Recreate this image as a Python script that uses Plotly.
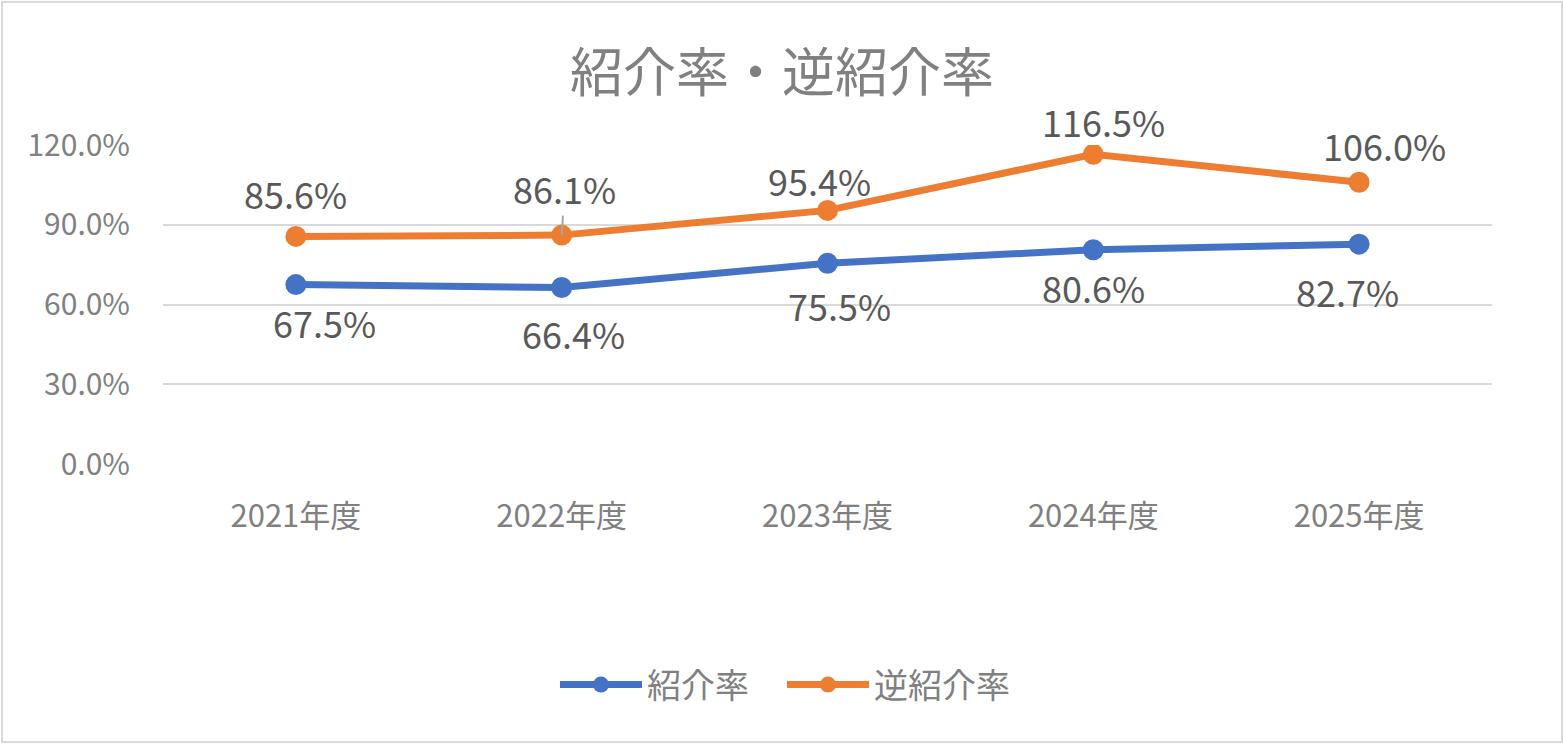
#%% Bibliotecas

import plotly.graph_objects as go

#%% Dados

anos = ["2021年度", "2022年度", "2023年度", "2024年度", "2025年度"]
shokai = [67.5, 66.4, 75.5, 80.6, 82.7]
gyaku_shokai = [85.6, 86.1, 95.4, 116.5, 106.0]
y_ticks = [0, 30, 60, 90, 120]

#%% Estilo

azul = "#4472C4"
laranja = "#ED7D31"
cinza_txt = "#595959"
cinza_eixo = "#808080"
fonte = "Noto Sans CJK JP"

# deslocamento (px) de cada rótulo de dados em relação ao ponto
desl_laranja = [(0, 43), (3, 47), (-8, 30), (10, 33), (25, 37)]
desl_azul = [(29, -37), (12, -46), (12, -42), (0, -37), (-12, -47)]

#%% Gráfico

fig = go.Figure()

fig.add_trace(go.Scatter(
    x=anos, y=shokai, name="紹介率",
    mode="lines+markers",
    line=dict(color=azul, width=7),
    marker=dict(color=azul, size=21),
))

fig.add_trace(go.Scatter(
    x=anos, y=gyaku_shokai, name="逆紹介率",
    mode="lines+markers",
    line=dict(color=laranja, width=7),
    marker=dict(color=laranja, size=21),
))

# rótulos de dados
for serie, desl in [(gyaku_shokai, desl_laranja), (shokai, desl_azul)]:
    for ano, v, (dx, dy) in zip(anos, serie, desl):
        if serie is gyaku_shokai and ano == "2022年度":
            # linha guia curta como no original
            fig.add_annotation(
                x=ano, y=v, text=f"{v:.1f}%",
                showarrow=True, arrowhead=0, arrowwidth=2,
                arrowcolor="#a6a6a6", ax=dx, ay=-dy, standoff=0,
                font=dict(family=fonte, size=36, color=cinza_txt),
            )
        else:
            fig.add_annotation(
                x=ano, y=v, text=f"{v:.1f}%",
                showarrow=False, xshift=dx, yshift=dy,
                font=dict(family=fonte, size=36, color=cinza_txt),
            )

fig.update_layout(
    width=1564,
    height=744,
    autosize=False,
    paper_bgcolor="white",
    plot_bgcolor="white",
    margin=dict(l=163, r=72, t=145, b=280),
    title=dict(
        text="紹介率・逆紹介率",
        x=0.5, xanchor="center", xref="container",
        y=1 - 73 / 744, yref="container", yanchor="middle",
        font=dict(family=fonte, size=53, color=cinza_eixo),
    ),
    showlegend=True,
    legend=dict(
        orientation="h",
        x=0.5, xanchor="center", xref="container",
        y=1 - 685 / 744, yref="container", yanchor="middle",
        font=dict(family=fonte, size=34, color=cinza_eixo),
        itemwidth=82,
        entrywidth=130,
    ),
    xaxis=dict(
        type="category",
        range=[-0.5, 4.5],
        showgrid=False,
        showline=False,
        ticks="",
        tickfont=dict(family=fonte, size=31, color=cinza_eixo),
        ticklabelstandoff=31,
    ),
    yaxis=dict(
        range=[0, 120],
        tickvals=y_ticks,
        ticktext=[f"{t:.1f}%" for t in y_ticks],
        showgrid=True,
        gridcolor="#d9d9d9",
        gridwidth=2,
        zeroline=False,
        showline=False,
        ticks="",
        tickfont=dict(family=fonte, size=30, color=cinza_eixo),
        ticklabelstandoff=32,
    ),
    shapes=[dict(
        type="rect", xref="paper", yref="paper",
        x0=-161 / 1329, x1=1 + 70 / 1329,
        y0=-278 / 319, y1=1 + 143 / 319,
        line=dict(color="#d9d9d9", width=2),
        fillcolor="rgba(0,0,0,0)", layer="below",
    )],
)

# remove a margem padrão da página para alinhar com a janela
fig.write_html("out.html", config={"displayModeBar": False},
               post_script="document.body.style.margin='0';")
